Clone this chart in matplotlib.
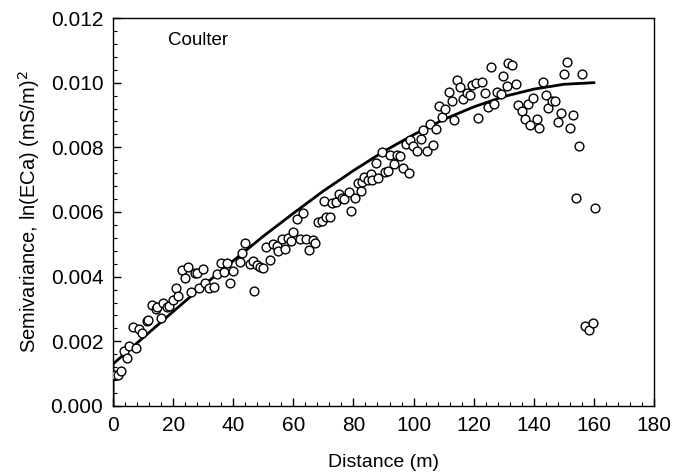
import matplotlib
matplotlib.use("Agg")
import matplotlib.pyplot as plt
from matplotlib.ticker import MultipleLocator, FormatStrFormatter

lag_m = [0.8, 1.8, 2.6, 3.7, 4.7, 5.4, 6.6, 7.7, 8.8, 9.8,
         11.2, 11.7, 12.9, 14.3, 14.7, 15.9, 16.7, 17.9, 18.6, 19.9,
         20.9, 21.7, 22.9, 24.0, 24.9, 25.9, 27.3, 28.0, 28.7, 29.8,
         30.6, 32.0, 33.7, 34.5, 35.8, 36.9, 37.8, 38.9, 40.0, 42.2,
         42.8, 43.9, 45.6, 46.7, 47.0, 47.8, 48.9, 50.0, 50.9, 52.2,
         53.3, 54.5, 55.0, 56.3, 57.2, 58.3, 59.2, 60.0, 61.1, 62.2,
         63.3, 64.2, 65.2, 66.4, 67.2, 68.3, 69.4, 70.2, 71.0, 72.2,
         72.9, 74.2, 75.3, 76.1, 76.9, 78.5, 79.3, 80.5, 81.5, 82.5,
         82.7, 83.5, 84.8, 85.8, 86.1, 87.5, 88.3, 89.4, 90.5, 91.4,
         92.3, 93.5, 94.6, 95.5, 96.6, 97.5, 98.6, 98.8, 99.8, 101.1,
         102.5, 103.3, 104.4, 105.5, 106.6, 107.6, 108.5, 109.5, 110.6, 111.8,
         112.7, 113.6, 114.6, 115.6, 116.5, 117.7, 118.8, 119.6, 120.8, 121.5,
         122.9, 123.8, 124.8, 125.7, 126.8, 127.6, 129.0, 129.8, 131.0, 131.5,
         132.6, 134.0, 134.8, 136.0, 137.1, 138.0, 138.7, 139.8, 141.0, 141.8,
         143.1, 144.0, 144.8, 145.9, 147.0, 148.1, 149.0, 149.9, 150.9, 152.0,
         153.1, 154.0, 155.0, 156.1, 157.0, 158.5, 159.6, 160.5]
semivar = [0.00096, 0.00096, 0.00109, 0.00171, 0.00149, 0.00186, 0.00245, 0.00178, 0.00237, 0.00227,
           0.00263, 0.00266, 0.00311, 0.00299, 0.00305, 0.00271, 0.00320, 0.00307, 0.00309, 0.00328,
           0.00366, 0.00341, 0.00421, 0.00395, 0.00429, 0.00354, 0.00410, 0.00412, 0.00364, 0.00424,
           0.00380, 0.00364, 0.00369, 0.00407, 0.00441, 0.00415, 0.00441, 0.00381, 0.00418, 0.00446,
           0.00474, 0.00503, 0.00438, 0.00448, 0.00357, 0.00436, 0.00431, 0.00426, 0.00493, 0.00452,
           0.00500, 0.00495, 0.00480, 0.00517, 0.00486, 0.00521, 0.00511, 0.00539, 0.00577, 0.00516,
           0.00598, 0.00516, 0.00482, 0.00513, 0.00503, 0.00570, 0.00572, 0.00635, 0.00584, 0.00586,
           0.00628, 0.00630, 0.00655, 0.00644, 0.00639, 0.00663, 0.00604, 0.00644, 0.00690, 0.00665,
           0.00694, 0.00708, 0.00699, 0.00717, 0.00699, 0.00753, 0.00704, 0.00786, 0.00724, 0.00727,
           0.00775, 0.00747, 0.00776, 0.00774, 0.00737, 0.00810, 0.00720, 0.00822, 0.00803, 0.00790,
           0.00826, 0.00855, 0.00790, 0.00872, 0.00807, 0.00856, 0.00929, 0.00893, 0.00919, 0.00970,
           0.00942, 0.00886, 0.01008, 0.00987, 0.00949, 0.00969, 0.00962, 0.00993, 0.00998, 0.00892,
           0.01001, 0.00967, 0.00926, 0.01048, 0.00933, 0.00972, 0.00964, 0.01021, 0.00990, 0.01060,
           0.01055, 0.00995, 0.00931, 0.00912, 0.00888, 0.00934, 0.00869, 0.00954, 0.00888, 0.00859,
           0.01003, 0.00962, 0.00921, 0.00944, 0.00943, 0.00879, 0.00905, 0.01026, 0.01063, 0.00859,
           0.00900, 0.00642, 0.00805, 0.01026, 0.00248, 0.00236, 0.00258, 0.00611]

# fitted model curve, read at 10 m steps (starts from 0 at lag 0)
model_x = [0, 0, 10, 20, 30, 40, 50, 60, 70, 80, 90, 100, 110, 120, 130, 140, 150, 160]
model_y = [0.0, 0.00130, 0.00211, 0.00292, 0.00372, 0.00449, 0.00525, 0.00596, 0.00665,
           0.00728, 0.00787, 0.00839, 0.00886, 0.00925, 0.00957, 0.00980, 0.00995, 0.01000]

plt.rcParams['font.family'] = ['Liberation Sans', 'DejaVu Sans']

fig = plt.figure(figsize=(6.78, 4.74), dpi=100)
ax = fig.add_axes([0.1667, 0.1435, 0.7979, 0.8185])

ax.plot(model_x, model_y, color='black', lw=2.0, zorder=2)
ax.scatter(lag_m, semivar, s=40, facecolors='white', edgecolors='black',
           linewidths=1.0, zorder=3)

ax.set_xlim(0, 180)
ax.set_ylim(0, 0.012)
ax.xaxis.set_major_locator(MultipleLocator(20))
ax.xaxis.set_minor_locator(MultipleLocator(4))
ax.yaxis.set_major_locator(MultipleLocator(0.002))
ax.yaxis.set_minor_locator(MultipleLocator(0.0004))
ax.yaxis.set_major_formatter(FormatStrFormatter('%.3f'))
ax.tick_params(which='both', direction='in', top=False, right=False, labelsize=15)
ax.tick_params(axis='x', which='major', length=6, width=1, pad=7)
ax.tick_params(axis='y', which='major', length=6, width=1, pad=7)
ax.tick_params(which='minor', length=3, width=0.8)
for s in ax.spines.values():
    s.set_linewidth(1.0)

ax.set_xlabel('Distance (m)', fontsize=14, labelpad=14)
ax.set_ylabel('Semivariance, ln(ECa) (mS/m)$^2$', fontsize=14.5, labelpad=6)
ax.text(0.102, 0.943, 'Coulter', transform=ax.transAxes, fontsize=13.5, va='center')

fig.savefig('out.png', dpi=100)
